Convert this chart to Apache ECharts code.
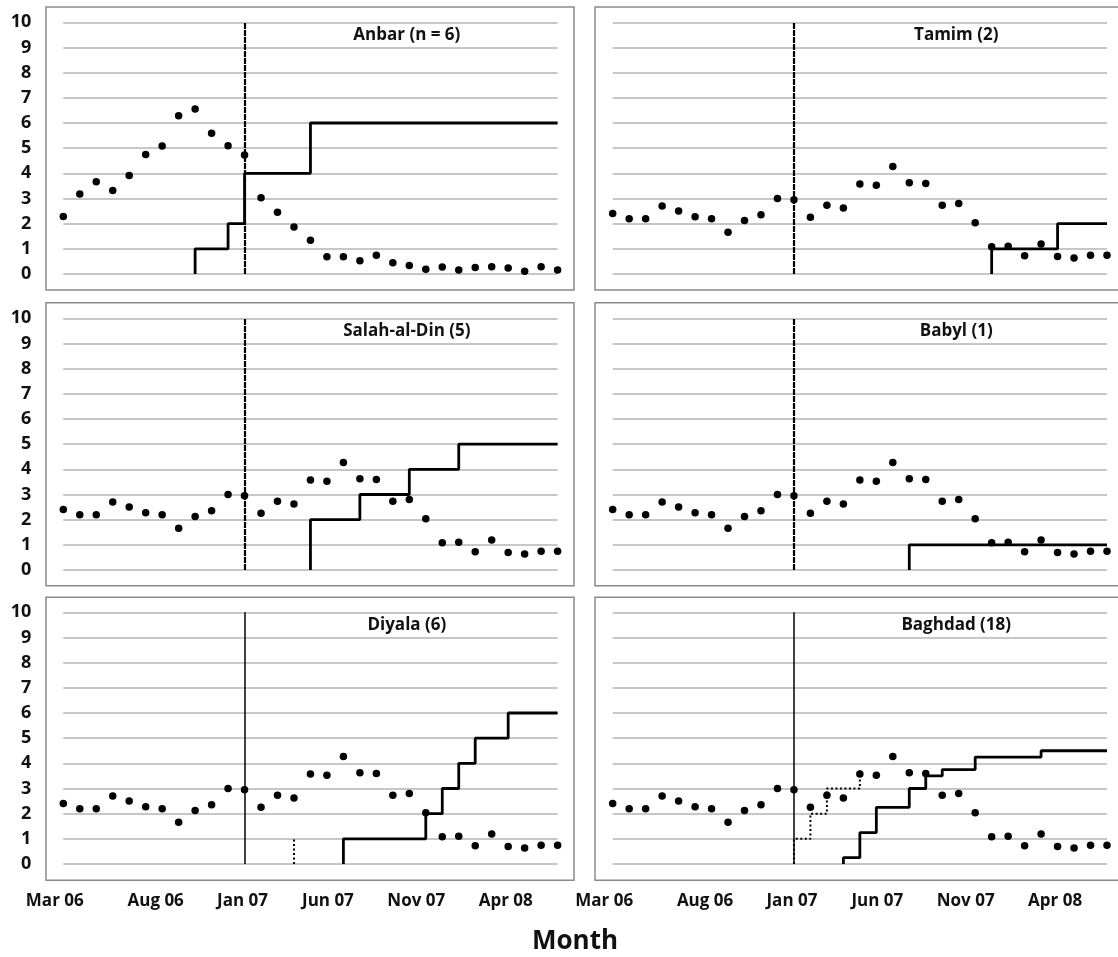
<!DOCTYPE html>
<html>
<head>
<meta charset="utf-8">
<script src="https://cdn.jsdelivr.net/npm/echarts@6/dist/echarts.min.js"></script>
<style>
html,body{margin:0;padding:0;background:#fff}
#c{width:1118px;height:957px}
</style>
</head>
<body>
<div id="c"></div>
<script>
// ---------------- DATA ----------------
const months = ['Feb 06','Mar 06','Apr 06','May 06','Jun 06','Jul 06','Aug 06','Sep 06','Oct 06','Nov 06','Dec 06',
  'Jan 07','Feb 07','Mar 07','Apr 07','May 07','Jun 07','Jul 07','Aug 07','Sep 07','Oct 07','Nov 07','Dec 07',
  'Jan 08','Feb 08','Mar 08','Apr 08','May 08','Jun 08','Jul 08','Aug 08'];
const xTickMonths = ['Mar 06','Aug 06','Jan 07','Jun 07','Nov 07','Apr 08'];
const interventionMonth = 'Jan 07';
const yMin = 0, yMax = 10, yStep = 1;
const xAxisTitle = 'Month';
const panelTitles = ['Anbar (n = 6)','Tamim (2)','Salah-al-Din (5)','Babyl (1)','Diyala (6)','Baghdad (18)'];

// monthly dot values
const anbarDots = [2.28,3.18,3.67,3.32,3.91,4.75,5.09,6.29,6.56,5.59,5.1,4.73,
  3.03,2.45,1.87,1.34,0.69,0.69,0.53,0.74,0.45,0.34,0.19,0.28,0.16,0.26,0.29,0.24,0.11,0.29,0.16];
const otherDots = [2.4,2.2,2.2,2.7,2.5,2.27,2.2,1.66,2.13,2.35,3.0,2.95,
  2.25,2.73,2.62,3.58,3.53,4.27,3.63,3.6,2.73,2.8,2.04,1.08,1.1,0.73,1.19,0.7,0.64,0.74,0.74];

// cumulative counts per month (level reached at the start of the previous month's segment)
const _ = null;
const anbarStep   = [_,_,_,_,_,_,_,_,0,1,1,2,4,4,4,4,6,6,6,6,6,6,6,6,6,6,6,6,6,6,6];
const tamimStep   = [_,_,_,_,_,_,_,_,_,_,_,_,_,_,_,_,_,_,_,_,_,_,_,0,1,1,1,1,2,2,2];
const salahStep   = [_,_,_,_,_,_,_,_,_,_,_,_,_,_,_,0,2,2,2,3,3,3,4,4,4,5,5,5,5,5,5];
const babylStep   = [_,_,_,_,_,_,_,_,_,_,_,_,_,_,_,_,_,_,0,1,1,1,1,1,1,1,1,1,1,1,1];
const diyalaStep  = [_,_,_,_,_,_,_,_,_,_,_,_,_,_,_,_,_,0,1,1,1,1,1,2,3,4,5,5,6,6,6];
const baghdadStep = [_,_,_,_,_,_,_,_,_,_,_,_,_,_,0,0.25,1.25,2.25,2.25,3,3.5,3.75,3.75,4.25,4.25,4.25,4.25,4.5,4.5,4.5,4.5];

// dotted (preliminary) lines as [month, value] breakpoints
const diyalaDotted  = [['Apr 07',0],['Apr 07',1]];
const baghdadDotted = [['Jan 07',0],['Jan 07',1],['Feb 07',1],['Feb 07',2],['Mar 07',2],['Mar 07',3],['May 07',3],['May 07',3.75]];

// ---------------- LAYOUT / STYLE ----------------
const FONT = '"Open Sans", "Noto Sans", sans-serif';
const plotLeft = [63.3, 612.7];
const plotWidth = 494.3;
const plotTop = [22.3, 318.3, 612.3];
const plotHeight = 251.7;
const boxLeft = [46, 595];
const boxWidth = [528, 526];
const boxTop = [7, 302.7, 597.3];
const boxHeight = 283;
const labelShift = [-25, -6.5, -2, 1, 7, 14];

// expand a monthly stepped series into breakpoints (vertical rise at the start of each segment)
function stepPoints(arr) {
  const pts = [];
  let s = arr.findIndex(v => v !== null);
  if (s < 0) return pts;
  pts.push([s, arr[s]]);
  for (let i = s + 1; i < arr.length; i++) {
    if (arr[i] === null) break;
    pts.push([i - 1, arr[i]]);
    pts.push([i, arr[i]]);
  }
  return pts;
}

const panels = [
  {title: panelTitles[0], dots: anbarDots, step: anbarStep, dotted: null, vtex: true},
  {title: panelTitles[1], dots: otherDots, step: tamimStep, dotted: null, vtex: true},
  {title: panelTitles[2], dots: otherDots, step: salahStep, dotted: null, vtex: true},
  {title: panelTitles[3], dots: otherDots, step: babylStep, dotted: null, vtex: true},
  {title: panelTitles[4], dots: otherDots, step: diyalaStep, dotted: diyalaDotted, vtex: false},
  {title: panelTitles[5], dots: otherDots, step: baghdadStep, dotted: baghdadDotted, vtex: false}
];

const grid = [], xAxis = [], yAxis = [], series = [], graphic = [];
const rich = {};
xTickMonths.forEach((m, k) => {
  const d = labelShift[k];
  rich['s' + k] = {
    fontFamily: FONT, fontWeight: 'bold', fontSize: 17, color: '#111', lineHeight: 20,
    padding: d < 0 ? [0, -2 * d, 0, 0] : [0, 0, 0, 2 * d]
  };
});

function makeXAxis(gridIndex, showLabels, group) {
  return {
    type: 'category', gridIndex: gridIndex, data: months, boundaryGap: false, position: 'bottom',
    axisLine: {show: false}, axisTick: {show: false}, splitLine: {show: false},
    axisLabel: {
      show: showLabels, margin: 27, hideOverlap: false,
      interval: (idx, val) => { const k = xTickMonths.indexOf(val); return k >= 0 && k % 2 === group; },
      formatter: (val) => { const k = xTickMonths.indexOf(val); return k >= 0 ? '{s' + k + '|' + val + '}' : ''; },
      rich: rich
    }
  };
}

const extraAxes = [];
panels.forEach((p, i) => {
  const col = i % 2, row = Math.floor(i / 2);
  const bottom = row === 2;
  grid.push({left: plotLeft[col], top: plotTop[row], width: plotWidth, height: plotHeight});
  xAxis.push(makeXAxis(i, bottom, 0));
  if (bottom) extraAxes.push(makeXAxis(i, true, 1));
  yAxis.push({
    type: 'value', gridIndex: i, min: yMin, max: yMax, interval: yStep,
    axisLine: {show: false}, axisTick: {show: false},
    splitLine: {show: true, lineStyle: {color: '#b4b4b4', width: 1.5}},
    axisLabel: {show: col === 0, margin: 32, color: '#111', fontFamily: FONT, fontWeight: 'bold', fontSize: 18}
  });
  series.push({
    type: 'line', xAxisIndex: i, yAxisIndex: i, data: stepPoints(p.step),
    showSymbol: false, symbol: 'none', z: 3,
    lineStyle: {color: '#000', width: 2.8},
    markLine: {
      silent: true, symbol: ['none', 'none'], label: {show: false},
      lineStyle: p.vtex ? {color: '#000', width: 2.2, type: [6, 1]} : {color: '#000', width: 1.5, type: 'solid'},
      data: [{xAxis: interventionMonth}]
    }
  });
  if (p.dotted) {
    series.push({
      type: 'line', xAxisIndex: i, yAxisIndex: i,
      data: p.dotted.map(d => [months.indexOf(d[0]), d[1]]),
      showSymbol: false, symbol: 'none', z: 3,
      lineStyle: {color: '#000', width: 2, type: [2, 2.5]}
    });
  }
  series.push({
    type: 'scatter', xAxisIndex: i, yAxisIndex: i, data: p.dots,
    symbol: 'circle', symbolSize: 7.5, itemStyle: {color: '#000', opacity: 1}, z: 4
  });
  graphic.push({
    type: 'rect', z: 0, silent: true,
    shape: {x: boxLeft[col], y: boxTop[row], width: boxWidth[col], height: boxHeight},
    style: {fill: 'none', stroke: '#8a8a8a', lineWidth: 1.5}
  });
  graphic.push({
    type: 'text', z: 10, silent: true,
    style: {
      text: p.title, x: plotLeft[col] + plotWidth * 0.695, y: plotTop[row] + 12.5,
      textAlign: 'center', textVerticalAlign: 'middle',
      font: 'bold 17px ' + FONT, fill: '#111'
    }
  });
});
extraAxes.forEach(a => xAxis.push(a));

graphic.push({
  type: 'text', silent: true,
  style: {text: xAxisTitle, x: 575, y: 942, textAlign: 'center', textVerticalAlign: 'middle',
    font: 'bold 26px ' + FONT, fill: '#111'}
});

const chart = echarts.init(document.getElementById('c'), null, {renderer: 'canvas'});
chart.setOption({
  animation: false,
  backgroundColor: '#fff',
  grid, xAxis, yAxis, series, graphic
});
</script>
</body>
</html>
